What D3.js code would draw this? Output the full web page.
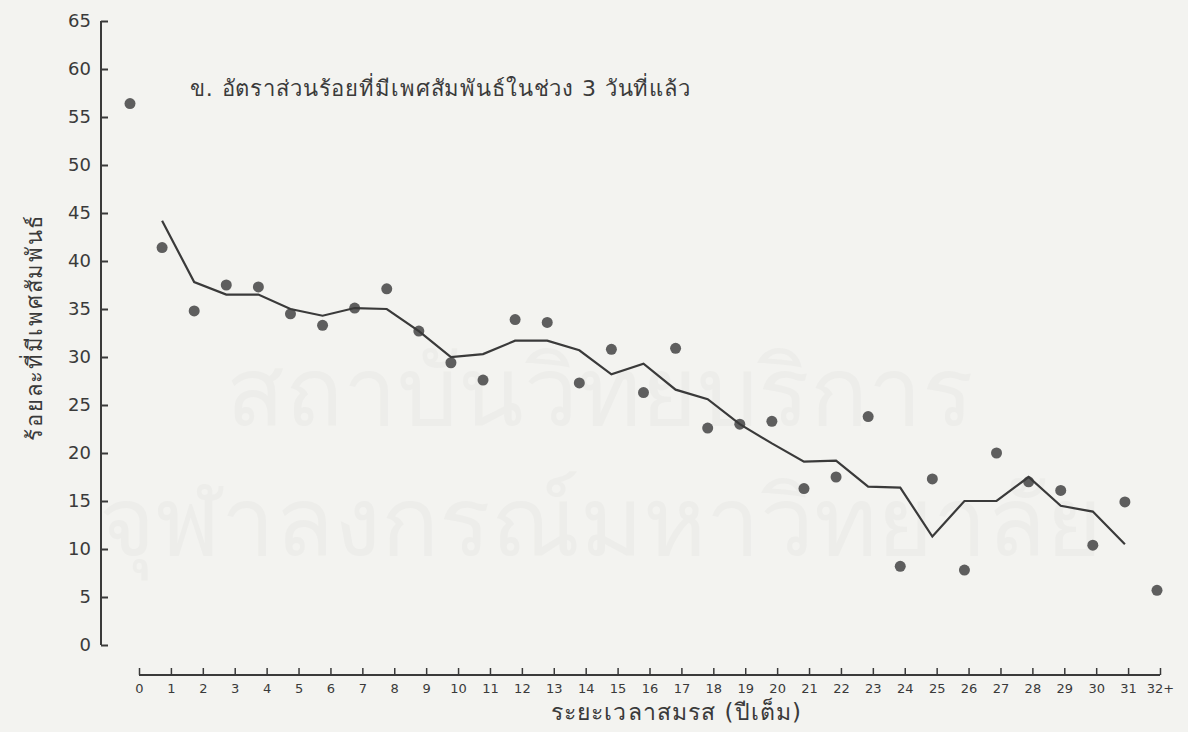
<!DOCTYPE html>
<html>
<head>
<meta charset="utf-8">
<script src="https://cdn.jsdelivr.net/npm/d3@7"></script>
<style>
  body { margin: 0; background: #f3f3f0; }
  svg { display: block; }
  text { font-family: "DejaVu Sans", "Noto Sans", sans-serif; fill: #3a3a3a; }
</style>
</head>
<body>
<div id="chart"></div>
<script>
// years of marriage (0 .. 32+)
const years = d3.range(0, 33);
const yearLabels = years.map(d => d === 32 ? "32+" : String(d));

// percent who had intercourse in the last 3 days (dots)
const pctValues = [56.4, 41.4, 34.8, 37.5, 37.3, 34.5, 33.3, 35.1, 37.1, 32.7,
    29.4, 27.6, 33.9, 33.6, 27.3, 30.8, 26.3, 30.9, 22.6, 23.0,
    23.3, 16.3, 17.5, 23.8, 8.2, 17.3, 7.8, 20.0, 17.0, 16.1,
    10.4, 14.9, 5.7];

// smoothed line, years 1 .. 31
const smoothYears = d3.range(1, 32);
const smoothValues = [44.2, 37.8, 36.5, 36.5, 35.0, 34.3, 35.1, 35.0, 32.7, 30.0,
    30.3, 31.7, 31.7, 30.7, 28.2, 29.3, 26.6, 25.6, 23.0, 21.0,
    19.1, 19.2, 16.5, 16.4, 11.3, 15.0, 15.0, 17.5, 14.5, 13.9, 10.5];

const yTicks = d3.range(0, 70, 5);

const width = 1188, height = 732;
const ink = "#3a3a3a";

const svg = d3.select("#chart").append("svg")
    .attr("width", width)
    .attr("height", height);

// faint watermark of the scanned page
const wm = svg.append("g");
wm.append("text").attr("x", 600).attr("y", 425).attr("text-anchor", "middle")
    .style("font-size", "96px").style("fill", "#ededea").text("สถาบันวิทยบริการ");
wm.append("text").attr("x", 600).attr("y", 555).attr("text-anchor", "middle")
    .style("font-size", "96px").style("fill", "#ededea").text("จุฬาลงกรณ์มหาวิทยาลัย");

// scales
const yScale = d3.scaleLinear().domain([0, 65]).range([645, 21]);
const xPts = d3.scaleLinear().domain([0, 32]).range([130, 1157]);   // where the marks sit
const xAxisScale = d3.scaleLinear().domain([0, 32]).range([139, 1160]); // printed axis

// y axis (ticks point inward)
const yAxis = svg.append("g")
    .attr("transform", "translate(101,0)")
    .call(d3.axisRight(yScale).tickValues(yTicks).tickSize(7).tickFormat(d3.format("d")));
yAxis.select(".domain").attr("stroke", ink).attr("stroke-width", 2)
    .attr("d", `M0,${yScale(65)}V${yScale(0)}`);
yAxis.selectAll(".tick line").attr("stroke", ink).attr("stroke-width", 2);
yAxis.selectAll(".tick text")
    .attr("x", -10).attr("text-anchor", "end")
    .style("font-size", "18px").style("fill", ink);

// x axis (separate, ticks pointing up)
const xAxis = svg.append("g")
    .attr("transform", "translate(0,675)")
    .call(d3.axisTop(xAxisScale).tickValues(years).tickSize(7).tickFormat((d, i) => yearLabels[i]));
xAxis.select(".domain").attr("stroke", ink).attr("stroke-width", 2)
    .attr("d", `M${xAxisScale(0)},0H${xAxisScale(32)}`);
xAxis.selectAll(".tick line").attr("stroke", ink).attr("stroke-width", 1.5);
xAxis.selectAll(".tick text")
    .attr("y", 18).attr("dy", 0)
    .style("font-size", "13px").style("fill", ink)
    .attr("text-anchor", "middle");

// dots
svg.selectAll(".dot")
    .data(pctValues)
    .enter().append("circle")
    .attr("class", "dot")
    .attr("cx", (d, i) => xPts(years[i]))
    .attr("cy", d => yScale(d))
    .attr("r", 5.5)
    .attr("fill", "#5e5e5e");

// smoothed line
const line = d3.line()
    .x((d, i) => xPts(smoothYears[i]))
    .y(d => yScale(d));
svg.append("path")
    .datum(smoothValues)
    .attr("d", line)
    .attr("fill", "none")
    .attr("stroke", ink)
    .attr("stroke-width", 2.2);

// titles
svg.append("text")
    .attr("x", 190).attr("y", 96)
    .attr("textLength", 500).attr("lengthAdjust", "spacing")
    .style("font-size", "22px")
    .text("ข. อัตราส่วนร้อยที่มีเพศสัมพันธ์ในช่วง 3 วันที่แล้ว");

svg.append("text")
    .attr("transform", "translate(42,328) rotate(-90)")
    .attr("text-anchor", "middle")
    .attr("textLength", 225).attr("lengthAdjust", "spacing")
    .style("font-size", "22px")
    .text("ร้อยละที่มีเพศสัมพันธ์");

svg.append("text")
    .attr("x", 676).attr("y", 720)
    .attr("text-anchor", "middle")
    .attr("textLength", 250).attr("lengthAdjust", "spacing")
    .style("font-size", "23px")
    .text("ระยะเวลาสมรส (ปีเต็ม)");
</script>
</body>
</html>
